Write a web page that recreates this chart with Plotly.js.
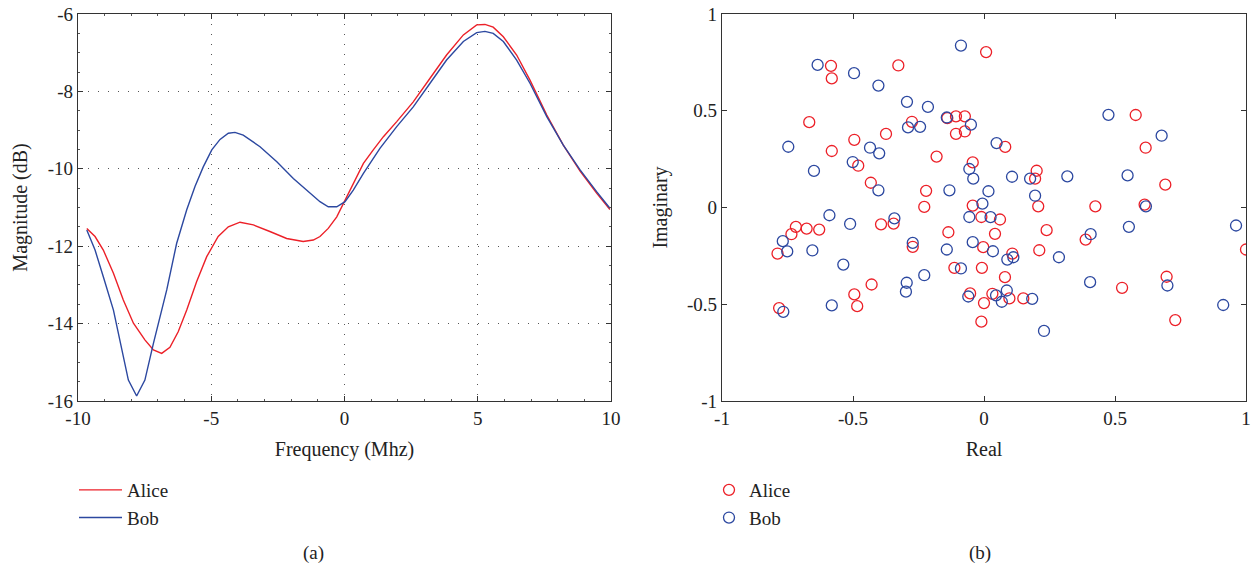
<!DOCTYPE html>
<html>
<head>
<meta charset="utf-8">
<script src="https://cdn.plot.ly/plotly-3.0.1.min.js"></script>
<style>html,body{margin:0;padding:0;background:#fff;}#chart{width:1258px;height:571px;}</style>
</head>
<body>
<div id="chart"></div>
<script>
// (a) frequency response
const aliceFreq = [-9.67,-9.36,-9.05,-8.67,-8.30,-7.92,-7.49,-7.17,-6.86,-6.55,-6.24,-5.92,-5.55,-5.17,-4.74,-4.36,-3.92,-3.42,-2.80,-2.17,-1.55,-1.17,-0.92,-0.61,-0.29,0.02,0.33,0.71,1.08,1.46,1.96,2.58,3.21,3.83,4.46,4.96,5.27,5.58,5.96,6.46,6.96,7.59,8.21,8.84,9.46,9.96];
const aliceMag  = [-11.54,-11.75,-12.10,-12.70,-13.39,-13.99,-14.42,-14.68,-14.77,-14.61,-14.21,-13.65,-12.92,-12.27,-11.75,-11.50,-11.38,-11.45,-11.62,-11.80,-11.88,-11.84,-11.75,-11.54,-11.24,-10.81,-10.38,-9.86,-9.51,-9.17,-8.78,-8.27,-7.66,-7.06,-6.54,-6.28,-6.27,-6.34,-6.59,-7.06,-7.71,-8.61,-9.39,-10.06,-10.63,-11.05];
const bobFreq = [-9.67,-9.36,-9.05,-8.67,-8.11,-7.80,-7.49,-7.17,-6.67,-6.30,-5.92,-5.61,-5.30,-4.98,-4.67,-4.36,-4.11,-3.80,-3.17,-2.54,-1.92,-1.29,-0.92,-0.61,-0.29,0.02,0.33,0.71,1.33,1.96,2.58,3.21,3.83,4.46,4.96,5.27,5.58,5.96,6.46,6.96,7.59,8.21,8.84,9.46,9.96];
const bobMag  = [-11.58,-12.10,-12.79,-13.65,-15.46,-15.87,-15.46,-14.51,-13.13,-11.93,-11.06,-10.46,-9.95,-9.51,-9.24,-9.08,-9.06,-9.13,-9.43,-9.82,-10.25,-10.63,-10.85,-10.98,-10.98,-10.85,-10.55,-10.12,-9.47,-8.91,-8.40,-7.79,-7.19,-6.71,-6.48,-6.45,-6.50,-6.71,-7.19,-7.79,-8.65,-9.39,-10.03,-10.59,-11.02];

// (b) constellation points
const aliceReal = [-0.584,-0.327,-0.581,-0.667,-0.275,-0.140,-0.107,-0.073,-0.107,-0.073,-0.495,-0.374,-0.581,-0.181,-0.043,-0.480,-0.432,-0.221,-0.228,-0.043,0.008,0.579,0.081,0.617,0.201,0.195,0.692,0.207,0.425,0.613,-0.718,-0.735,-0.677,-0.629,-0.788,-0.393,-0.345,-0.272,-0.136,-0.113,-0.429,-0.495,-0.484,-0.782,-0.053,-0.010,0.061,0.042,0.239,-0.003,0.108,0.211,0.388,1.0,-0.008,0.080,0.032,0.097,0.150,0.000,-0.010,0.527,0.697,0.730];
const aliceImag = [0.732,0.734,0.667,0.441,0.443,0.462,0.471,0.471,0.381,0.393,0.350,0.380,0.292,0.263,0.233,0.216,0.128,0.086,0.003,0.010,0.803,0.478,0.313,0.309,0.190,0.149,0.118,0.006,0.006,0.015,-0.100,-0.138,-0.109,-0.114,-0.238,-0.087,-0.083,-0.203,-0.128,-0.312,-0.398,-0.449,-0.510,-0.520,-0.444,-0.049,-0.062,-0.136,-0.117,-0.205,-0.238,-0.221,-0.166,-0.217,-0.312,-0.360,-0.446,-0.470,-0.470,-0.494,-0.590,-0.415,-0.358,-0.582];
const bobReal = [-0.088,-0.635,-0.496,-0.403,-0.294,-0.214,-0.142,-0.050,-0.290,-0.244,-0.747,-0.435,-0.400,-0.501,-0.649,-0.056,-0.041,-0.403,-0.132,0.475,0.678,0.048,0.107,0.176,0.318,0.548,0.017,0.195,-0.006,0.618,-0.590,-0.511,-0.342,-0.768,-0.751,-0.655,-0.537,-0.272,-0.142,-0.056,-0.043,-0.088,-0.295,-0.298,-0.228,-0.581,-0.766,-0.060,0.025,0.553,0.962,0.407,0.034,0.089,0.112,0.286,0.405,0.700,0.087,0.046,0.068,0.184,0.913,0.229];
const bobImag = [0.837,0.737,0.694,0.630,0.546,0.520,0.465,0.428,0.414,0.417,0.314,0.309,0.280,0.235,0.189,0.199,0.149,0.089,0.089,0.479,0.371,0.333,0.159,0.149,0.161,0.166,0.084,0.061,0.020,0.006,-0.040,-0.085,-0.056,-0.174,-0.227,-0.222,-0.295,-0.183,-0.217,-0.049,-0.179,-0.315,-0.389,-0.435,-0.350,-0.506,-0.539,-0.460,-0.050,-0.100,-0.093,-0.138,-0.226,-0.269,-0.257,-0.257,-0.386,-0.403,-0.429,-0.454,-0.487,-0.472,-0.504,-0.638];

const RED = 'rgb(236,32,40)';
const BLUE = 'rgb(44,72,160)';
const FONT = '"Liberation Serif", "Times New Roman", serif';
const FS = 19;
const FT = 20;
const W = 1258, H = 571;

const traces = [
  {x: aliceFreq, y: aliceMag, type: 'scatter', mode: 'lines', name: 'Alice', line: {color: RED, width: 1.4}, xaxis: 'x', yaxis: 'y', legend: 'legend'},
  {x: bobFreq, y: bobMag, type: 'scatter', mode: 'lines', name: 'Bob', line: {color: BLUE, width: 1.4}, xaxis: 'x', yaxis: 'y', legend: 'legend'},
  {x: aliceReal, y: aliceImag, type: 'scatter', mode: 'markers', name: 'Alice', marker: {symbol: 'circle-open', size: 11, color: RED, line: {width: 1.3, color: RED}}, xaxis: 'x2', yaxis: 'y2', legend: 'legend2'},
  {x: bobReal, y: bobImag, type: 'scatter', mode: 'markers', name: 'Bob', marker: {symbol: 'circle-open', size: 11, color: BLUE, line: {width: 1.3, color: BLUE}}, xaxis: 'x2', yaxis: 'y2', legend: 'legend2'}
];

const yDom = [1 - 401 / H, 1 - 14 / H];
const axCommon = {
  showline: true, linecolor: '#333', linewidth: 1.2, mirror: 'ticks',
  ticks: 'inside', ticklen: 5, tickcolor: '#333', zeroline: false,
  tickfont: {family: FONT, size: FS, color: '#222'}
};

const layout = {
  width: W, height: H,
  margin: {l: 0, r: 0, t: 0, b: 0},
  paper_bgcolor: '#fff', plot_bgcolor: '#fff',
  font: {family: FONT, size: FS, color: '#222'},
  xaxis: Object.assign({}, axCommon, {
    domain: [78 / W, 611 / W], range: [-10, 10], tickvals: [-10, -5, 0, 5, 10], ticktext: ['-10', '-5', '0', '5', '10'],
    showgrid: true, gridcolor: '#555', gridwidth: 1, griddash: '1px,9px',
    minor: {ticks: 'inside', ticklen: 2, dtick: 1, tickcolor: '#555', showgrid: false},
    title: {text: 'Frequency (Mhz)', font: {family: FONT, size: FT}, standoff: 14},
    anchor: 'y'
  }),
  yaxis: Object.assign({}, axCommon, {
    domain: yDom, range: [-16, -6], tickvals: [-16, -14, -12, -10, -8, -6], ticktext: ['-16', '-14', '-12', '-10', '-8', '-6'],
    showgrid: true, gridcolor: '#555', gridwidth: 1, griddash: '1px,9px',
    minor: {ticks: 'inside', ticklen: 2, dtick: 0.5, tickcolor: '#555', showgrid: false},
    title: {text: 'Magnitude (dB)', font: {family: FONT, size: FT}, standoff: 14},
    anchor: 'x'
  }),
  xaxis2: Object.assign({}, axCommon, {
    domain: [722 / W, 1246 / W], range: [-1, 1], tickvals: [-1, -0.5, 0, 0.5, 1], ticktext: ['-1', '-0.5', '0', '0.5', '1'],
    showgrid: false,
    title: {text: 'Real', font: {family: FONT, size: FT}, standoff: 14},
    anchor: 'y2'
  }),
  yaxis2: Object.assign({}, axCommon, {
    domain: yDom, range: [-1, 1], tickvals: [-1, -0.5, 0, 0.5, 1], ticktext: ['-1', '-0.5', '0', '0.5', '1'],
    showgrid: false,
    title: {text: 'Imaginary', font: {family: FONT, size: FT}, standoff: 14},
    anchor: 'x2'
  }),
  legend: {x: 74 / W, y: 1 - 471 / H, xanchor: 'left', yanchor: 'top', bgcolor: 'rgba(0,0,0,0)',
           font: {family: FONT, size: FS, color: '#222'}, itemwidth: 43, tracegroupgap: 0},
  legend2: {x: 709 / W, y: 1 - 471 / H, xanchor: 'left', yanchor: 'top', bgcolor: 'rgba(0,0,0,0)',
            font: {family: FONT, size: FS, color: '#222'}, itemwidth: 30, tracegroupgap: 0},
  annotations: [
    {text: '(a)', x: 313 / W, y: 1 - 553 / H, xref: 'paper', yref: 'paper', xanchor: 'center', yanchor: 'middle', showarrow: false, font: {family: FONT, size: FS, color: '#222'}},
    {text: '(b)', x: 980 / W, y: 1 - 553 / H, xref: 'paper', yref: 'paper', xanchor: 'center', yanchor: 'middle', showarrow: false, font: {family: FONT, size: FS, color: '#222'}}
  ],
  showlegend: true
};

Plotly.newPlot('chart', traces, layout, {displayModeBar: false, staticPlot: true});
</script>
</body>
</html>
